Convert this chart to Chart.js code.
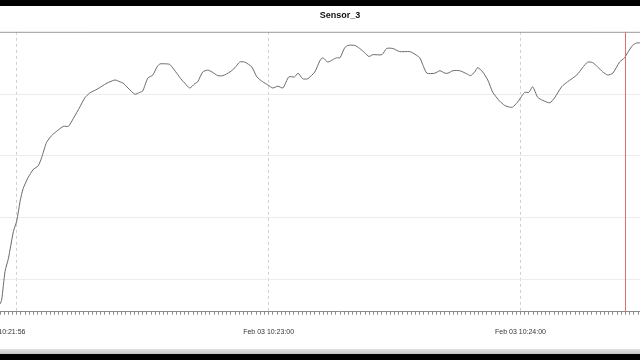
<!DOCTYPE html>
<html>
<head>
<meta charset="utf-8">
<script src="https://cdn.jsdelivr.net/npm/chart.js@4/dist/chart.umd.min.js"></script>
<style>
  html, body { margin: 0; padding: 0; width: 640px; height: 360px; overflow: hidden; background: #000; }
  #paper { position: absolute; left: 0; top: 6px; width: 640px; height: 343px; background: #fff; }
  #bar { position: absolute; left: 0; top: 349px; width: 640px; height: 5px; background: linear-gradient(#e4e4e4, #c4c4c4); }
  #wrap { position: absolute; left: -60px; top: 0; width: 760px; height: 349px; }
</style>
</head>
<body>
<div id="paper"></div>
<div id="bar"></div>
<div id="wrap"><canvas id="sensorChart"></canvas></div>
<script>
'use strict';

// seconds after Feb 03 10:21:56
var seconds = [0, 0.4, 1.2, 2.0, 3.2, 4.0, 4.8, 5.5, 6.7, 7.9, 9.1, 9.9, 11.1, 12.3, 13.5, 15.1, 16.3, 17.5, 19.0, 20.2,
  21.4, 23.1, 24.3, 25.5, 26.2, 27.4, 28.6, 29.3, 30.5, 32.1, 33.3, 34.0, 35.2, 36.4, 37.4, 38.1, 39.8, 40.5, 42.1, 43.3,
  44.0, 45.2, 46.4, 47.1, 48.3, 49.5, 50.5, 51.9, 53.1, 54.8, 56.0, 57.1, 58.3, 60.0, 61.2, 62.6, 63.8, 65.0, 66.2, 67.4,
  68.8, 70.2, 71.0, 72.1, 73.3, 75.0, 76.2, 76.9, 78.1, 79.3, 80.2, 81.0, 82.1, 82.9, 84.5, 85.7, 86.9, 87.9, 88.8, 91.0,
  92.1, 93.6, 95.2, 97.6, 98.3, 100.0, 100.7, 101.7, 103.6, 104.8, 106.0, 106.7, 107.9, 109.5, 111.2, 112.1, 113.1, 113.8, 115.0, 116.2,
  117.4, 119.0, 120.2, 121.4, 122.1, 123.3, 124.5, 125.0, 126.0, 126.9, 128.1, 129.3, 131.0, 132.1, 133.8, 135.2, 137.4, 138.8, 140.0, 141.2,
  142.4, 143.6, 144.8, 146.0, 147.6, 148.8, 149.5, 150.7, 151.7, 152.4, 153.6];
var sensorValues = [16.0, 16.7, 21.3, 23.4, 27.8, 29.5, 32.7, 34.7, 36.5, 37.8, 38.4, 39.7, 42.2, 43.3, 44.0, 44.8, 44.8, 46.1, 47.9, 49.4,
  50.2, 50.8, 51.3, 51.8, 52.0, 52.3, 52.0, 51.8, 51.0, 50.0, 50.3, 50.5, 52.6, 53.1, 54.4, 54.9, 54.9, 54.8, 53.4, 52.3,
  51.8, 51.0, 51.7, 52.0, 53.6, 53.9, 53.6, 53.0, 53.0, 53.6, 54.3, 55.2, 55.2, 54.4, 52.8, 52.0, 51.5, 51.0, 51.3, 51.0,
  52.8, 52.8, 53.4, 52.5, 52.5, 53.6, 55.4, 55.9, 55.2, 55.6, 55.9, 55.9, 57.5, 57.9, 57.9, 57.4, 56.7, 56.1, 56.4, 56.4,
  57.4, 57.4, 56.9, 56.9, 56.7, 55.9, 54.8, 53.4, 53.4, 53.8, 53.4, 53.4, 53.8, 53.8, 53.3, 53.0, 53.6, 54.3, 53.6, 52.3,
  50.3, 48.9, 48.2, 47.9, 47.9, 48.7, 49.9, 50.3, 50.3, 51.2, 49.5, 49.0, 48.6, 49.4, 51.2, 52.0, 53.1, 54.3, 55.2, 55.1,
  54.4, 53.6, 53.1, 53.4, 55.2, 55.9, 56.7, 57.9, 58.3, 58.3, 58.1];

var labelTimes = [0, 64, 124];
var labelTexts = ['Feb 03 10:21:56', 'Feb 03 10:23:00', 'Feb 03 10:24:00'];
var minuteTimes = [4, 64, 124];
var yGridValues = [20, 30, 40, 50];
var markerTime = 148.8;

var points = seconds.map(function (s, i) {
  return { x: s, y: sensorValues[i] };
});

// top frame line and red marker
var framePlugin = {
  id: 'frame',
  afterDatasetsDraw: function (chart) {
    var ctx = chart.ctx;
    var area = chart.chartArea;
    ctx.save();
    ctx.strokeStyle = '#9a9a9a';
    ctx.lineWidth = 1;
    ctx.beginPath();
    ctx.moveTo(area.left, area.top + 0.5);
    ctx.lineTo(area.right, area.top + 0.5);
    ctx.stroke();
    var mx = Math.round(chart.scales.x.getPixelForValue(markerTime)) + 0.5;
    ctx.strokeStyle = 'rgb(225, 110, 110)';
    ctx.beginPath();
    ctx.moveTo(mx, area.top);
    ctx.lineTo(mx, area.bottom);
    ctx.stroke();
    ctx.restore();
  }
};

var context = document.getElementById('sensorChart').getContext('2d');
var myChart = new Chart(context, {
  type: 'line',
  data: {
    datasets: [{
      label: 'Sensor_3',
      data: points,
      borderColor: '#6a6a6a',
      borderWidth: 1,
      pointRadius: 0,
      tension: 0.2,
      fill: false
    }]
  },
  options: {
    responsive: true,
    maintainAspectRatio: false,
    animation: false,
    layout: { padding: { left: 60, right: 20, top: 6, bottom: 0 } },
    plugins: {
      legend: { display: false },
      tooltip: { enabled: false },
      title: {
        display: true,
        text: 'Sensor_3',
        color: '#111',
        font: { family: 'Liberation Sans', size: 9, weight: 'bold' },
        padding: { top: 4, bottom: 11 }
      }
    },
    scales: {
      x: {
        type: 'linear',
        min: 0,
        max: 162,
        afterBuildTicks: function (axis) {
          var ticks = [];
          for (var s = 0; s <= 162; s++) ticks.push({ value: s });
          axis.ticks = ticks;
        },
        ticks: {
          autoSkip: false,
          maxRotation: 0,
          padding: 13,
          color: '#333',
          font: { family: 'Liberation Sans', size: 7 },
          callback: function (value) {
            var i = labelTimes.indexOf(value);
            return i >= 0 ? labelTexts[i] : '';
          }
        },
        grid: {
          color: function (ctx) {
            return ctx.tick && minuteTimes.indexOf(ctx.tick.value) >= 0 ? '#cfcfcf' : 'rgba(0,0,0,0)';
          },
          tickColor: '#8a8a8a',
          tickLength: 3,
          tickBorderDash: []
        },
        border: { display: true, color: '#8a8a8a', dash: [3, 3] }
      },
      y: {
        min: 14.8,
        max: 60.1,
        afterBuildTicks: function (axis) {
          axis.ticks = yGridValues.map(function (v) { return { value: v }; });
        },
        ticks: { display: false },
        grid: { color: '#ececec', drawTicks: false },
        border: { display: false }
      }
    }
  },
  plugins: [framePlugin]
});
</script>
</body>
</html>
